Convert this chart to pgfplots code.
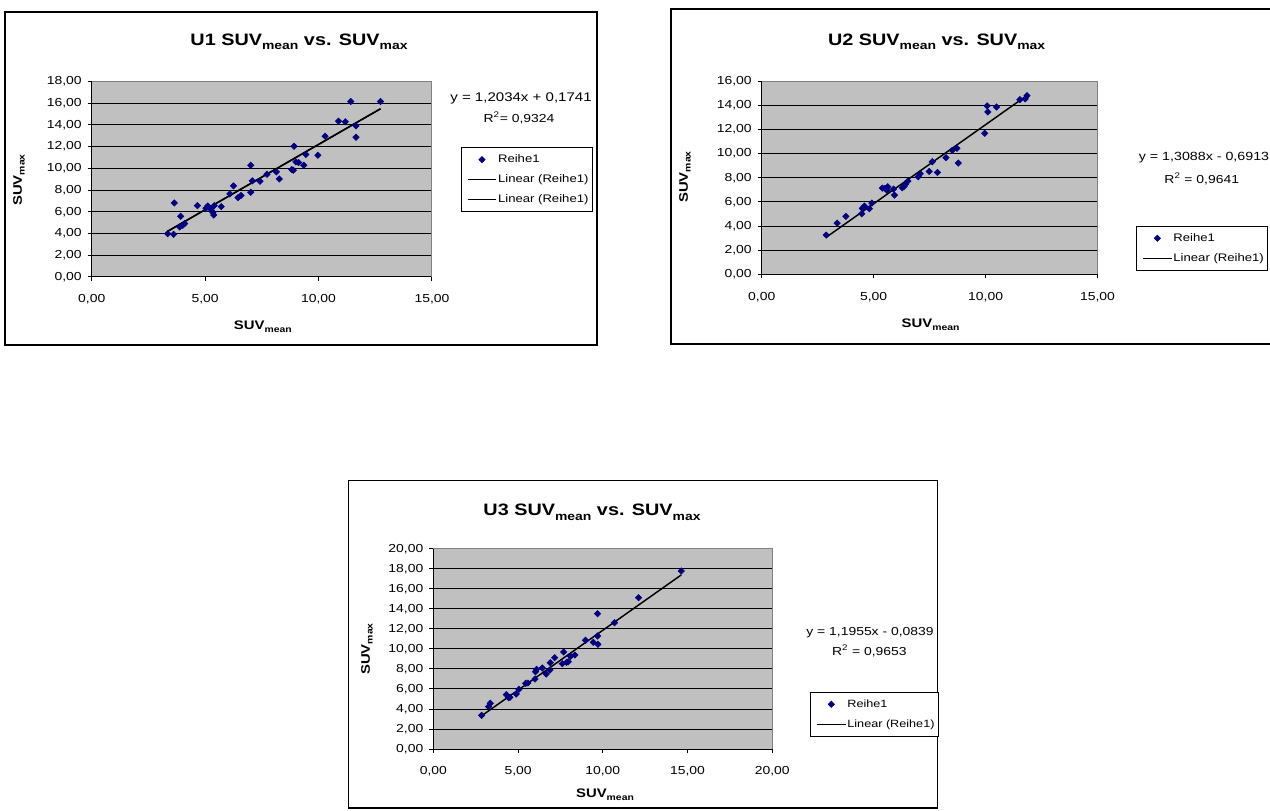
\documentclass[border=0pt]{standalone}
\usepackage{fontspec}
\setmainfont{Liberation Sans}[FakeStretch=1.2]
\usepackage{graphicx}
\usepackage{pgfplots}
\pgfplotsset{compat=1.18}
\usepackage{pgfplotstable}
\definecolor{plotgray}{HTML}{C0C0C0}
\definecolor{navyblue}{HTML}{000080}
\newcommand{\tsub}[1]{\raisebox{-3.3pt}{\fontsize{8.7}{9}\selectfont\bfseries #1}}
\newcommand{\lsub}[1]{\raisebox{-2pt}{\fontsize{6.5}{7}\selectfont\bfseries #1}}
\newcommand{\ttl}{\fontsize{12.4}{14}\selectfont\bfseries}
\newcommand{\lbl}{\fontsize{9.3}{11}\selectfont\bfseries}
\newcommand{\txt}{\fontsize{8.7}{10}\selectfont}

\pgfplotstableread{
x y
3.35 3.99
3.61 3.93
3.64 6.82
3.92 5.59
3.88 4.61
4.01 4.76
4.10 4.92
4.66 6.57
5.04 6.33
5.12 6.54
5.25 6.24
5.34 5.96
5.38 5.71
5.40 6.57
5.71 6.48
6.09 7.65
6.25 8.39
6.45 7.31
6.58 7.50
7.01 10.29
7.01 7.80
7.08 8.85
7.42 8.82
7.73 9.46
8.14 9.68
8.27 9.03
8.82 9.89
8.89 9.83
8.92 12.04
9.00 10.60
9.12 10.54
9.35 10.29
9.44 11.28
9.97 11.21
10.29 12.96
10.88 14.35
11.18 14.29
11.42 16.16
11.65 13.92
11.65 12.87
12.73 16.16
}\dataA

\pgfplotstableread{
x y
2.88 3.26
3.37 4.25
3.76 4.81
4.47 5.03
4.49 5.47
4.59 5.66
4.81 5.44
4.92 5.91
5.39 7.15
5.51 7.13
5.63 7.26
5.60 6.96
5.89 7.07
5.93 6.57
6.28 7.18
6.36 7.29
6.42 7.46
6.53 7.73
6.99 8.09
7.08 8.34
7.48 8.53
7.62 9.33
7.85 8.45
8.23 9.67
8.51 10.27
8.72 10.44
8.78 9.22
9.96 11.68
10.07 13.95
10.10 13.45
10.49 13.86
11.53 14.47
11.77 14.53
11.85 14.80
}\dataB

\pgfplotstableread{
x y
2.85 3.37
3.26 4.23
3.36 4.57
4.31 5.43
4.44 5.13
4.52 5.17
4.89 5.50
5.05 5.97
5.45 6.57
5.58 6.60
6.00 7.00
6.03 7.73
6.09 7.97
6.43 8.10
6.66 7.50
6.88 7.90
6.90 8.63
7.16 9.13
7.61 8.53
7.69 9.70
7.86 8.67
7.96 8.73
8.10 9.27
8.35 9.40
8.98 10.87
9.44 10.67
9.71 10.47
9.69 11.30
9.69 13.53
10.69 12.63
12.11 15.13
14.63 17.80
}\dataC

\pgfplotsset{
  excel/.style={
    scale only axis,
    axis x line*=bottom, axis y line*=left,
    axis line style={black, line width=0.75pt, -},
    axis background/.style={fill=plotgray},
    ymajorgrids, grid style={black, line width=0.75pt},
    tick align=outside, major tick length=3pt,
    tick style={black, line width=0.75pt},
    ticklabel style={font=\txt},
    /pgf/number format/.cd, fixed, fixed zerofill, precision=2, use comma, 1000 sep={}, assume math mode=true, /pgfplots/.cd,
    xticklabel style={anchor=center, yshift=-14pt},
    yticklabel style={anchor=east, xshift=-1pt},
    xlabel style={font=\lbl, anchor=center},
    ylabel style={font=\lbl, anchor=center},
    legend style={draw=black, fill=white, font=\fontsize{8.2}{10}\selectfont, anchor=north west,
      inner xsep=2pt, inner ysep=2.75pt, row sep=2.5pt,
      nodes={inner xsep=0.75pt, inner ysep=2pt, text height=6.5pt, text depth=2pt}},
    legend cell align=left,
    legend image code/.code={\path (-2.5pt,0pt); \draw[mark repeat=2,mark phase=2,##1] plot coordinates {(0pt,0pt) (10.75pt,0pt) (21.5pt,0pt)};},
    extra description/.code={\draw[gray, line width=0.75pt] (axis description cs:0,1) -- (axis description cs:1,1) -- (axis description cs:1,0);},
  },
  pts/.style={only marks, mark=square*, mark size=1.7pt, mark options={rotate=45, fill=navyblue, draw=navyblue}},
  trend/.style={black, line width=1.1pt, mark=none},
}

\begin{document}
\begin{tikzpicture}
\path[use as bounding box] (0,0) rectangle (952.5pt,607.5pt);
% chart frames
\draw[black, line width=1pt] (3.75pt,348.75pt) rectangle (447.75pt,598.5pt);
\draw[black, line width=1pt] (503.25pt,349.5pt) rectangle (960pt,600.75pt);
\draw[black, line width=1pt] (261.45pt,1.5pt) rectangle (703.1pt,246.9pt);

% ---------- chart 1 ----------
\begin{axis}[excel,
  at={(68.78pt,399.75pt)}, anchor=south west,
  width=255.2pt, height=146.6pt,
  xmin=0, xmax=15, ymin=0, ymax=18,
  xtick={0,5,10,15}, ytick={0,2,...,18},
  xlabel={SUV\lsub{mean}}, ylabel={SUV\lsub{max}},
  xlabel style={at={(axis description cs:0.503,-0.2558)}},
  ylabel style={at={(axis description cs:-0.2136,0.496)}},
  legend style={at={(axis description cs:1.0843,0.6634)}},
]
\addplot[pts] table[x=x,y=y] {\dataA};
\addlegendentry{Reihe1}
\addplot[trend] coordinates {(3.35,4.21) (12.73,15.49)};
\addlegendentry{Linear (Reihe1)}
\addplot[trend] coordinates {(3.35,4.21) (12.73,15.49)};
\addlegendentry{Linear (Reihe1)}
\end{axis}

% ---------- chart 2 ----------
\begin{axis}[excel,
  at={(571.28pt,401.63pt)}, anchor=south west,
  width=251.85pt, height=145pt,
  xmin=0, xmax=15, ymin=0, ymax=16,
  xtick={0,5,10,15}, ytick={0,2,...,16},
  xlabel={SUV\lsub{mean}}, ylabel={SUV\lsub{max}},
  xlabel style={at={(axis description cs:0.503,-0.2612)}},
  ylabel style={at={(axis description cs:-0.2284,0.504)}},
  legend style={at={(axis description cs:1.1147,0.2509)}},
]
\addplot[pts] table[x=x,y=y] {\dataB};
\addlegendentry{Reihe1}
\addplot[trend] coordinates {(2.88,3.08) (11.85,14.82)};
\addlegendentry{Linear (Reihe1)}
\end{axis}

% ---------- chart 3 ----------
\begin{axis}[excel,
  at={(324.98pt,45.75pt)}, anchor=south west,
  width=254.25pt, height=150pt,
  xmin=0, xmax=20, ymin=0, ymax=20,
  xtick={0,5,10,15,20}, ytick={0,2,...,20},
  xlabel={SUV\lsub{mean}}, ylabel={SUV\lsub{max}},
  xlabel style={at={(axis description cs:0.5065,-0.23)}},
  ylabel style={at={(axis description cs:-0.1956,0.5)}},
  legend style={at={(axis description cs:1.1112,0.285)}, font=\fontsize{7.9}{10}\selectfont},
]
\addplot[pts] table[x=x,y=y] {\dataC};
\addlegendentry{Reihe1}
\addplot[trend] coordinates {(2.85,3.32) (14.63,17.41)};
\addlegendentry{Linear (Reihe1)}
\end{axis}

% titles
\node[anchor=base] at (224.25pt,573.4pt) {\ttl U1 SUV\tsub{mean} vs. SUV\tsub{max}};
\node[anchor=base] at (702.45pt,573.4pt) {\ttl U2 SUV\tsub{mean} vs. SUV\tsub{max}};
\node[anchor=base] at (444pt,220.5pt) {\ttl U3 SUV\tsub{mean} vs. SUV\tsub{max}};

% regression equations
\node[anchor=base, inner sep=0pt] at (390.75pt,531pt) {\fontsize{9.4}{11}\selectfont y = 1,2034x + 0,1741};
\node[anchor=base, inner sep=0pt] at (389.25pt,515.25pt) {\txt R\textsuperscript{2}= 0,9324};
\node[anchor=base, inner sep=0pt] at (903pt,487.1pt) {\fontsize{8.9}{11}\selectfont y = 1,3088x - 0,6913};
\node[anchor=base, inner sep=0pt] at (901.3pt,469.9pt) {\txt R\textsuperscript{2} = 0,9641};
\node[anchor=base, inner sep=0pt] at (652.5pt,130.9pt) {\txt y = 1,1955x - 0,0839};
\node[anchor=base, inner sep=0pt] at (652pt,115.9pt) {\txt R\textsuperscript{2} = 0,9653};
\end{tikzpicture}
\end{document}
